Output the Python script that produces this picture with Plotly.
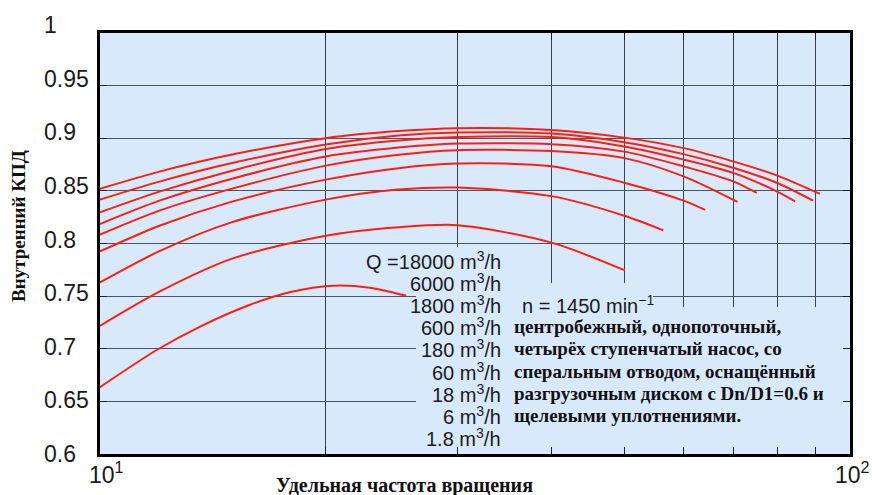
import plotly.graph_objects as go

# ---------------- data ----------------
ns_std = [10, 12, 15, 20, 25, 30, 40, 50, 60, 70, 80]

q18000_x = ns_std + [91.2]
q18000_y = [0.852, 0.8683, 0.8845, 0.9001, 0.9068, 0.9095, 0.9078, 0.9006, 0.8906, 0.8778, 0.8645, 0.8471]

q6000_x = ns_std + [89.3]
q6000_y = [0.8417, 0.8588, 0.8764, 0.894, 0.9025, 0.9054, 0.9044, 0.8963, 0.8849, 0.8718, 0.8575, 0.8407]

q1800_x = ns_std + [84.5]
q1800_y = [0.8296, 0.8493, 0.8692, 0.8897, 0.8978, 0.9011, 0.9011, 0.8921, 0.8797, 0.8669, 0.8493, 0.840]

q600_x = [10, 12, 15, 20, 25, 30, 40, 50, 60, 70, 75.1]
q600_y = [0.8185, 0.8407, 0.8616, 0.8826, 0.8911, 0.8949, 0.8944, 0.8873, 0.8733, 0.8588, 0.848]

q180_x = [10, 12, 15, 20, 25, 30, 40, 50, 60, 70.8]
q180_y = [0.8084, 0.8312, 0.8521, 0.874, 0.8844, 0.8887, 0.8878, 0.8811, 0.8638, 0.8395]

q60_x = [10, 12, 15, 20, 25, 30, 40, 50, 60, 64.1]
q60_y = [0.7925, 0.8169, 0.8398, 0.8607, 0.8716, 0.8759, 0.8735, 0.8578, 0.8407, 0.8319]

q18_x = [10, 12, 15, 20, 25, 30, 40, 50, 56.4]
q18_y = [0.763, 0.7927, 0.8203, 0.8417, 0.8512, 0.8531, 0.845, 0.8264, 0.8125]

q6_x = [10, 12, 15, 20, 25, 30, 40, 50.1]
q6_y = [0.7218, 0.7542, 0.7856, 0.8074, 0.8155, 0.8174, 0.8008, 0.7744]

q1_8_x = [10, 11.9, 13.6, 15.85, 17.9, 20.45, 22.9, 25.6]
q1_8_y = [0.6635, 0.6988, 0.7211, 0.7418, 0.7537, 0.7599, 0.758, 0.7503]

curves = [
    (q18000_x, q18000_y), (q6000_x, q6000_y), (q1800_x, q1800_y),
    (q600_x, q600_y), (q180_x, q180_y), (q60_x, q60_y),
    (q18_x, q18_y), (q6_x, q6_y), (q1_8_x, q1_8_y),
]

q_labels = ["Q =18000 m<sup>3</sup>/h", "6000 m<sup>3</sup>/h", "1800 m<sup>3</sup>/h",
            "600 m<sup>3</sup>/h", "180 m<sup>3</sup>/h", "60 m<sup>3</sup>/h",
            "18 m<sup>3</sup>/h", "6 m<sup>3</sup>/h", "1.8 m<sup>3</sup>/h"]

note_lines = ["центробежный, однопоточный,",
              "четырёх ступенчатый насос, со",
              "сперальным отводом, оснащённый",
              "разгрузочным диском с Dn/D1=0.6 и",
              "щелевыми уплотнениями."]
speed_label = "n = 1450 min<sup>−1</sup>"

y_ticks = [0.6, 0.65, 0.7, 0.75, 0.8, 0.85, 0.9, 0.95, 1.0]
y_ticktext = ["0.6", "0.65", "0.7", "0.75", "0.8", "0.85", "0.9", "0.95", "1"]
x_ticks = [10, 20, 30, 40, 50, 60, 70, 80, 90, 100]
x_ticktext = ["10<sup>1</sup>", "10<sup>2</sup>"]

x_title = "Удельная частота вращения"
y_title = "Внутренний КПД"

# ---------------- figure ----------------
SANS = "Liberation Sans, Arial, Helvetica, sans-serif"
SERIF = "Liberation Serif, Times New Roman, serif"
W, H = 872, 495
L, R, T, B = 100, 22, 33, 41
PW, PH = W - L - R, H - T - B
XR = [1, 2]          # log10 range
YR = [0.6, 1.0]


def px(xp):
    return (xp - L) / PW


def py(yp):
    return (H - B - yp) / PH


def xdata(xp):       # pixel -> data value on the log axis (shapes use data units)
    return 10 ** (XR[0] + px(xp) * (XR[1] - XR[0]))


def ydata(yp):
    return YR[0] + py(yp) * (YR[1] - YR[0])


fig = go.Figure()
for cx, cy in curves:
    fig.add_trace(go.Scatter(x=cx, y=cy, mode="lines",
                             line=dict(color="#ff1e0e", width=2, shape="spline", smoothing=0.8),
                             hoverinfo="skip"))

bg = "#d8e9fc"
# boxes hiding the grid behind the text blocks (between grid and traces)
for x0, x1, y0, y1 in [(416, 505, 247, H - B), (505, 653, 283, H - B), (505, W - R, 307, H - B)]:
    fig.add_shape(type="rect", xref="x", yref="y",
                  x0=xdata(x0), x1=xdata(x1), y0=ydata(y1), y1=ydata(y0),
                  fillcolor=bg, line=dict(width=0), layer="between")

ann = []
TXT = "#1a1a1a"
# y tick labels (left aligned as in the reference)
for v, t in zip(y_ticks, y_ticktext):
    ann.append(dict(x=px(42), xref="paper", y=v, yref="y", text=t, showarrow=False,
                    xanchor="left", yanchor="middle", yshift=(v - 0.6) / 0.4 * 8,
                    font=dict(family=SANS, size=23, color=TXT)))
# x tick labels
ann.append(dict(x=px(106), xref="paper", y=py(473), yref="paper", text=x_ticktext[0],
                showarrow=False, xanchor="center", yanchor="middle",
                font=dict(family=SANS, size=23, color=TXT)))
ann.append(dict(x=px(852), xref="paper", y=py(473), yref="paper", text=x_ticktext[1],
                showarrow=False, xanchor="center", yanchor="middle",
                font=dict(family=SANS, size=23, color=TXT)))
# Q labels
for i, t in enumerate(q_labels):
    ann.append(dict(x=px(503), xref="paper", y=py(260 + i * 22.2), yref="paper", text=t,
                    showarrow=False, xanchor="right", yanchor="middle",
                    font=dict(family=SANS, size=20, color=TXT)))
ann.append(dict(x=px(520), xref="paper", y=py(304.4), yref="paper", text=speed_label,
                showarrow=False, xanchor="left", yanchor="middle",
                font=dict(family=SANS, size=20, color=TXT)))
for i, t in enumerate(note_lines):
    ann.append(dict(x=px(512), xref="paper", y=py(326.6 + i * 22.2), yref="paper", text="<b>" + t + "</b>",
                    showarrow=False, xanchor="left", yanchor="middle",
                    font=dict(family=SERIF, size=19, color="#111")))
# axis titles
ann.append(dict(x=px(404), xref="paper", y=py(485), yref="paper", text="<b>" + x_title + "</b>",
                showarrow=False, xanchor="center", yanchor="middle",
                font=dict(family=SERIF, size=20, color="#111")))
ann.append(dict(x=px(18), xref="paper", y=py(226), yref="paper", text="<b>" + y_title + "</b>",
                showarrow=False, xanchor="center", yanchor="middle", textangle=-90,
                font=dict(family=SERIF, size=19, color="#111")))

fig.update_layout(
    width=W, height=H, margin=dict(l=L, r=R, t=T, b=B),
    paper_bgcolor="white", plot_bgcolor=bg, showlegend=False,
    annotations=ann,
)
fig.update_xaxes(type="log", range=XR, tickvals=x_ticks, showticklabels=False,
                 showgrid=True, gridcolor="#3a4250", gridwidth=1,
                 ticks="inside", ticklen=7, tickcolor="#222", tickwidth=1,
                 showline=True, linecolor="black", linewidth=2.5, mirror="ticks",
                 zeroline=False)
fig.update_yaxes(range=YR, tickvals=y_ticks, showticklabels=False,
                 showgrid=True, gridcolor="#4a5564", gridwidth=1,
                 ticks="inside", ticklen=7, tickcolor="#222", tickwidth=1,
                 showline=True, linecolor="black", linewidth=2.5, mirror="ticks",
                 zeroline=False)

fig.write_html("out.html")
